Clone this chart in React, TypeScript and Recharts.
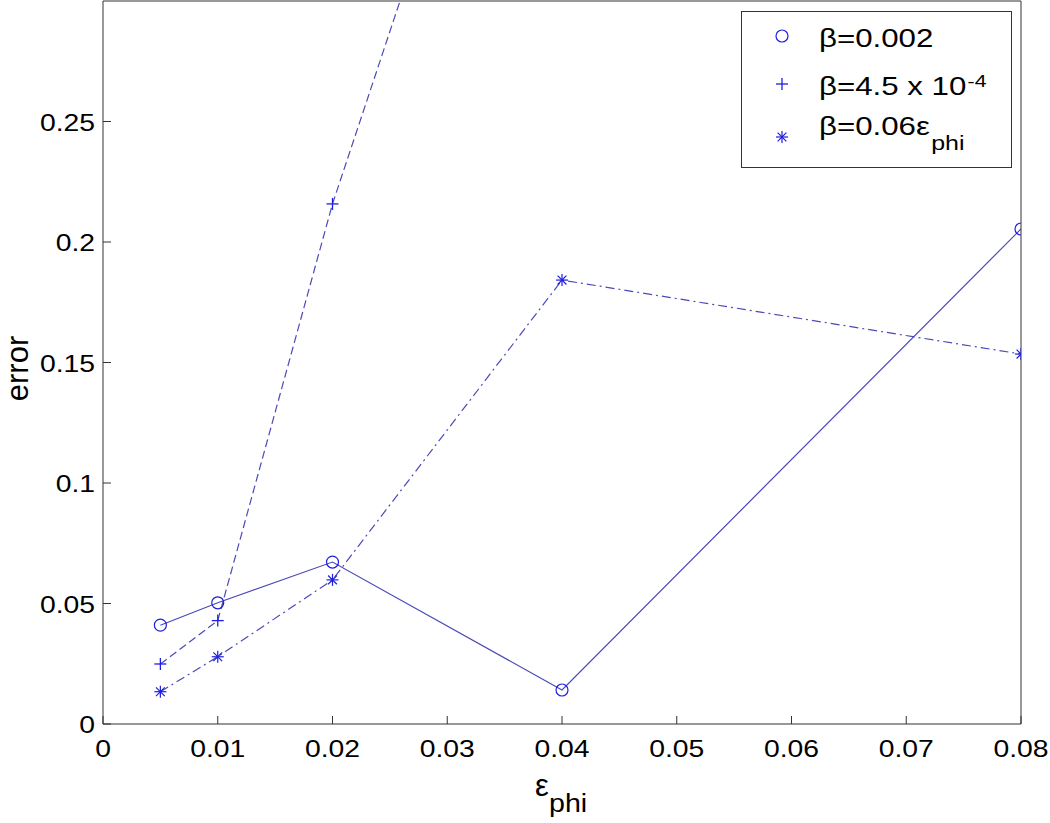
import React from "react";
import { LineChart, Line, XAxis, YAxis, Legend } from "recharts";

// epsilon_phi values on the x axis
const epsPhi = [0.005, 0.01, 0.02, 0.04, 0.08];

// error for each beta setting
const errBeta002 = [0.041, 0.0503, 0.0672, 0.0141, 0.2054];
const errBeta45e4 = [0.0249, 0.0429, 0.2158, 0.502, null];
const errBeta006eps = [0.0134, 0.0279, 0.0598, 0.1842, 0.1535];

const xTicks = [0, 0.01, 0.02, 0.03, 0.04, 0.05, 0.06, 0.07, 0.08];
const yTicks = [0, 0.05, 0.1, 0.15, 0.2, 0.25];

const FONT = "'Liberation Sans', Arial, Helvetica, sans-serif";
const LINE_COLOR = "#4a4ab8";
const MARK_COLOR = "#1e1ee0";
const AXIS_COLOR = "#333";

const data = epsPhi.map((x, i) => ({
  x,
  s1: errBeta002[i],
  s2: errBeta45e4[i],
  s3: errBeta006eps[i],
}));

type MarkerKind = "circle" | "plus" | "star";

function Marker({ cx, cy, kind }: { cx: number; cy: number; kind: MarkerKind }) {
  if (cx == null || cy == null || isNaN(cx) || isNaN(cy)) return null;
  const s = 6;
  const d = 4.4;
  if (kind === "circle") {
    return <circle cx={cx} cy={cy} r={6} fill="none" stroke={MARK_COLOR} strokeWidth={1.2} />;
  }
  if (kind === "plus") {
    return (
      <g stroke={MARK_COLOR} strokeWidth={1.3}>
        <line x1={cx - s} y1={cy} x2={cx + s} y2={cy} />
        <line x1={cx} y1={cy - s} x2={cx} y2={cy + s} />
      </g>
    );
  }
  return (
    <g stroke={MARK_COLOR} strokeWidth={1.2}>
      <line x1={cx - s} y1={cy} x2={cx + s} y2={cy} />
      <line x1={cx} y1={cy - s} x2={cx} y2={cy + s} />
      <line x1={cx - d} y1={cy - d} x2={cx + d} y2={cy + d} />
      <line x1={cx - d} y1={cy + d} x2={cx + d} y2={cy - d} />
    </g>
  );
}

// text stretched horizontally, like the original figure export
function StretchText({
  x,
  y,
  sx,
  size,
  anchor = "start",
  children,
}: {
  x: number;
  y: number;
  sx: number;
  size: number;
  anchor?: "start" | "middle" | "end";
  children: React.ReactNode;
}) {
  return (
    <g transform={`translate(${x},${y}) scale(${sx},1)`}>
      <text x={0} y={0} textAnchor={anchor} fontFamily={FONT} fontSize={size} fill="#000">
        {children}
      </text>
    </g>
  );
}

const XTick = (props: any) => {
  const { x, y, payload } = props;
  return (
    <StretchText x={x} y={y} sx={1.18} size={24} anchor="middle">
      {String(payload.value)}
    </StretchText>
  );
};

const YTick = (props: any) => {
  const { x, y, payload } = props;
  return (
    <StretchText x={x} y={y + 9} sx={1.18} size={24} anchor="end">
      {String(payload.value)}
    </StretchText>
  );
};

const XLabel = (props: any) => {
  const vb = props.viewBox;
  const cx = vb.x + vb.width / 2;
  return (
    <g>
      <text x={cx - 27} y={vb.y + 72} fontFamily={FONT} fontSize={31} fill="#000">
        ε
      </text>
      <StretchText x={cx - 13} y={vb.y + 88} sx={1.1} size={26}>
        phi
      </StretchText>
    </g>
  );
};

const YLabel = (props: any) => {
  const vb = props.viewBox;
  const cy = vb.y + vb.height / 2 + 6;
  return (
    <text
      x={0}
      y={0}
      transform={`translate(${vb.x + 28},${cy}) rotate(-90)`}
      textAnchor="middle"
      fontFamily={FONT}
      fontSize={31}
      fill="#000"
    >
      error
    </text>
  );
};

const legendRows: { kind: MarkerKind; y: number }[] = [
  { kind: "circle", y: 25 },
  { kind: "plus", y: 73 },
  { kind: "star", y: 126 },
];

const renderLegend = () => (
  <svg width={272} height={158} style={{ display: "block" }}>
    <rect x={0.5} y={0.5} width={270} height={156} fill="#fff" stroke={AXIS_COLOR} strokeWidth={1} />
    {legendRows.map((r) => (
      <Marker key={r.kind} cx={41} cy={r.y} kind={r.kind} />
    ))}
    <StretchText x={78} y={36} sx={1.25} size={25}>
      β=0.002
    </StretchText>
    <StretchText x={78} y={84} sx={1.25} size={25}>
      β=4.5 x 10
      <tspan fontSize={17} dy={-8} dx={1}>
        -4
      </tspan>
    </StretchText>
    <StretchText x={78} y={124} sx={1.25} size={25}>
      β=0.06ε
      <tspan fontSize={20} dy={15} dx={1}>
        phi
      </tspan>
    </StretchText>
  </svg>
);

export default function App() {
  return (
    <div style={{ position: "absolute", left: 0, top: 0, width: 1050, height: 823, background: "#fff" }}>
      <LineChart
        width={1050}
        height={823}
        data={data}
        margin={{ top: 0, right: 28, left: 0, bottom: 0 }}
        style={{ fontFamily: FONT }}
      >
        <XAxis
          dataKey="x"
          type="number"
          domain={[0, 0.08]}
          ticks={xTicks}
          interval={0}
          allowDataOverflow
          height={99}
          tickSize={-8}
          tickMargin={41}
          tick={XTick}
          stroke={AXIS_COLOR}
          label={<XLabel />}
        />
        <XAxis
          xAxisId="top"
          orientation="top"
          dataKey="x"
          type="number"
          domain={[0, 0.08]}
          ticks={xTicks}
          interval={0}
          allowDataOverflow
          height={1}
          tickSize={-8}
          tick={false}
          stroke={AXIS_COLOR}
        />
        <YAxis
          type="number"
          domain={[0, 0.3]}
          ticks={yTicks}
          interval={0}
          allowDataOverflow
          width={103}
          tickSize={-8}
          tickMargin={16}
          tick={YTick}
          stroke={AXIS_COLOR}
          label={<YLabel />}
        />
        <YAxis
          yAxisId="right"
          orientation="right"
          type="number"
          domain={[0, 0.3]}
          ticks={yTicks}
          interval={0}
          allowDataOverflow
          width={1}
          tickSize={-8}
          tick={false}
          stroke={AXIS_COLOR}
        />
        <Legend
          layout="horizontal"
          verticalAlign="middle"
          align="center"
          content={renderLegend}
          wrapperStyle={{ position: "absolute", left: 741, top: 11, width: 272, height: 158 }}
        />
        <Line
          dataKey="s1"
          type="linear"
          stroke={LINE_COLOR}
          strokeWidth={1.2}
          isAnimationActive={false}
          dot={(p: any) => <Marker key={`c${p.index}`} cx={p.cx} cy={p.cy} kind="circle" />}
          activeDot={false}
        />
        <Line
          dataKey="s2"
          type="linear"
          stroke={LINE_COLOR}
          strokeWidth={1.2}
          strokeDasharray="8 4"
          isAnimationActive={false}
          dot={(p: any) => <Marker key={`p${p.index}`} cx={p.cx} cy={p.cy} kind="plus" />}
          activeDot={false}
        />
        <Line
          dataKey="s3"
          type="linear"
          stroke={LINE_COLOR}
          strokeWidth={1.2}
          strokeDasharray="9 4 2 4"
          isAnimationActive={false}
          dot={(p: any) => <Marker key={`s${p.index}`} cx={p.cx} cy={p.cy} kind="star" />}
          activeDot={false}
        />
      </LineChart>
    </div>
  );
}
